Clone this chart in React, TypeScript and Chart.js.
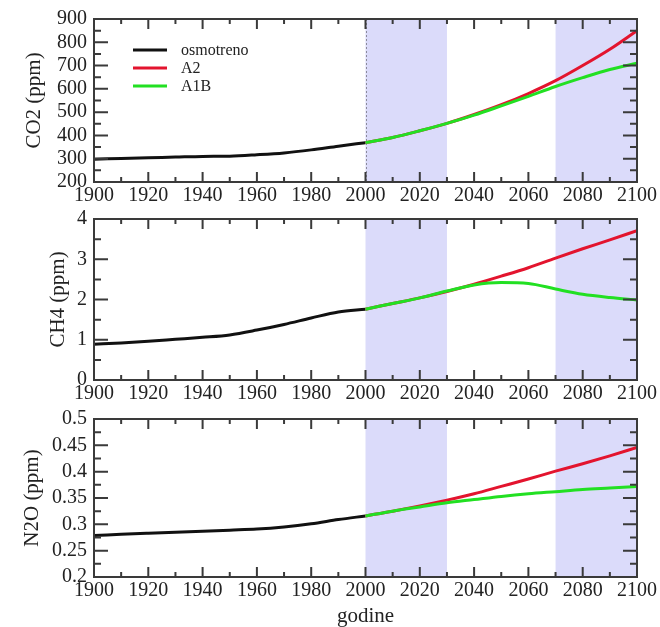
import { useEffect, useRef } from "react";
import { Chart, registerables } from "chart.js";

Chart.register(...registerables);

// ---- data ----
const histYears = [1900, 1910, 1920, 1930, 1940, 1950, 1960, 1970, 1980, 1990, 2000];
const futYears = [2000, 2010, 2020, 2030, 2040, 2050, 2060, 2070, 2080, 2090, 2100];

const co2Hist = [298, 301, 304, 307, 310, 311, 317, 325, 338, 354, 369];
const co2A2 = [369, 391, 420, 452, 490, 532, 580, 635, 700, 770, 850];
const co2A1B = [369, 391, 420, 452, 487, 527, 568, 610, 648, 683, 710];

const ch4Hist = [0.89, 0.92, 0.96, 1.01, 1.06, 1.12, 1.24, 1.38, 1.54, 1.69, 1.76];
const ch4A2 = [1.76, 1.9, 2.04, 2.2, 2.38, 2.58, 2.79, 3.03, 3.26, 3.48, 3.71];
const ch4A1B = [1.76, 1.9, 2.04, 2.21, 2.36, 2.42, 2.4, 2.26, 2.13, 2.05, 1.99];

const n2oHist = [0.279, 0.281, 0.283, 0.285, 0.287, 0.289, 0.291, 0.295, 0.301, 0.309, 0.316];
const n2oA2 = [0.316, 0.325, 0.335, 0.346, 0.358, 0.372, 0.386, 0.401, 0.415, 0.43, 0.446];
const n2oA1B = [0.316, 0.325, 0.333, 0.341, 0.347, 0.353, 0.358, 0.362, 0.366, 0.369, 0.372];

const seriesLabels = ["osmotreno", "A2", "A1B"];
const seriesColors = ["#111111", "#e3142e", "#22e022"];
const shadeRanges = [
  [2000, 2030],
  [2070, 2100],
];
const xTickLabels = [1900, 1920, 1940, 1960, 1980, 2000, 2020, 2040, 2060, 2080, 2100];

const FONT = "'Liberation Serif', 'Times New Roman', serif";

const framePlugin = {
  id: "frameTicks",
  beforeDatasetsDraw(chart: any, _a: any, opts: any) {
    const { ctx, chartArea } = chart;
    const xs = chart.scales.x;
    ctx.save();
    ctx.fillStyle = "rgb(219,219,250)";
    for (const [a, b] of opts.shade || []) {
      const x1 = xs.getPixelForValue(a);
      const x2 = xs.getPixelForValue(b);
      ctx.fillRect(x1, chartArea.top, x2 - x1, chartArea.bottom - chartArea.top);
    }
    if (opts.dotted) {
      ctx.strokeStyle = "#8a8a9a";
      ctx.lineWidth = 1;
      ctx.setLineDash([2, 2]);
      const x = Math.round(xs.getPixelForValue(2000)) + 0.5;
      ctx.beginPath();
      ctx.moveTo(x, chartArea.top);
      ctx.lineTo(x, chartArea.bottom);
      ctx.stroke();
    }
    ctx.restore();
  },
  afterDatasetsDraw(chart: any, _a: any, opts: any) {
    const { ctx, chartArea } = chart;
    const xs = chart.scales.x;
    const ys = chart.scales.y;
    const { left, right, top, bottom } = chartArea;
    ctx.save();
    ctx.strokeStyle = "#3a3a3a";
    ctx.lineWidth = 2;
    // x ticks
    const xMin = xs.min, xMax = xs.max;
    for (let v = xMin + opts.xMinor; v < xMax - 1e-9; v += opts.xMinor) {
      const major = Math.abs(((v - xMin) / opts.xMajor) - Math.round((v - xMin) / opts.xMajor)) < 1e-6;
      const len = major ? 10 : 5;
      const x = xs.getPixelForValue(v);
      ctx.beginPath();
      ctx.moveTo(x, bottom);
      ctx.lineTo(x, bottom - len);
      ctx.moveTo(x, top);
      ctx.lineTo(x, top + len);
      ctx.stroke();
    }
    // y ticks
    const yMin = ys.min, yMax = ys.max;
    const n = Math.round((yMax - yMin) / opts.yMinor);
    for (let i = 1; i < n; i++) {
      const v = yMin + i * opts.yMinor;
      const r = (v - yMin) / opts.yMajor;
      const major = Math.abs(r - Math.round(r)) < 1e-6;
      const len = major ? 14 : 7;
      const y = ys.getPixelForValue(v);
      ctx.beginPath();
      ctx.moveTo(left, y);
      ctx.lineTo(left + len, y);
      ctx.moveTo(right, y);
      ctx.lineTo(right - len, y);
      ctx.stroke();
    }
    ctx.strokeRect(left, top, right - left, bottom - top);
    // legend
    if (opts.legend) {
      chart.data.datasets.forEach((ds: any, i: number) => {
        const y = 50 + i * 18;
        ctx.strokeStyle = ds.borderColor;
        ctx.lineWidth = 3;
        ctx.beginPath();
        ctx.moveTo(133, y);
        ctx.lineTo(167, y);
        ctx.stroke();
        ctx.fillStyle = "#222";
        ctx.font = `16px ${FONT}`;
        ctx.textBaseline = "middle";
        ctx.textAlign = "left";
        ctx.fillText(ds.label, 181, y + 1);
      });
    }
    ctx.restore();
  },
};

type PanelProps = {
  top: number;
  height: number;
  padTop: number;
  xAxisH: number;
  hist: number[];
  a2: number[];
  a1b: number[];
  yMin: number;
  yMax: number;
  yStep: number;
  yMinor: number;
  yTitle: string;
  yTitlePad: number;
  xTitle?: string;
  legend?: boolean;
  dotted?: boolean;
};

function Panel(p: PanelProps) {
  const ref = useRef<HTMLCanvasElement>(null);
  useEffect(() => {
    const toPts = (xs: number[], ys: number[]) => xs.map((x, i) => ({ x, y: ys[i] }));
    const mk = (i: number, data: any[], order: number) => ({
      label: seriesLabels[i],
      data,
      borderColor: seriesColors[i],
      backgroundColor: seriesColors[i],
      borderWidth: 3,
      pointRadius: 0,
      cubicInterpolationMode: "monotone" as const,
      fill: false,
      order,
    });
    const chart = new Chart(ref.current!, {
      type: "line",
      data: {
        datasets: [
          mk(0, toPts(histYears, p.hist), 2),
          mk(1, toPts(futYears, p.a2), 1),
          mk(2, toPts(futYears, p.a1b), 0),
        ],
      },
      options: {
        animation: false,
        responsive: false,
        maintainAspectRatio: false,
        layout: { padding: { top: p.padTop, right: 23, left: 0, bottom: 0 } },
        plugins: {
          legend: { display: false },
          tooltip: { enabled: false },
          frameTicks: {
            shade: shadeRanges,
            xMinor: 10,
            xMajor: 20,
            yMinor: p.yMinor,
            yMajor: p.yStep,
            legend: !!p.legend,
            dotted: !!p.dotted,
          },
        } as any,
        scales: {
          x: {
            type: "linear",
            min: 1900,
            max: 2100,
            afterBuildTicks: (s: any) => {
              s.ticks = xTickLabels.map((v) => ({ value: v }));
            },
            ticks: {
              autoSkip: false,
              maxRotation: 0,
              padding: 2,
              color: "#222",
              font: { family: FONT, size: 20 },
              callback: (v: any) => String(v),
            },
            grid: { display: false, drawTicks: false },
            border: { display: false },
            title: {
              display: !!p.xTitle,
              text: p.xTitle || "",
              color: "#222",
              font: { family: FONT, size: 21, lineHeight: 1 },
              padding: { top: 0, bottom: 0 },
            },
            afterFit: (s: any) => {
              s.height = p.xAxisH;
            },
          },
          y: {
            min: p.yMin,
            max: p.yMax,
            ticks: {
              stepSize: p.yStep,
              autoSkip: false,
              padding: 7,
              color: "#222",
              font: { family: FONT, size: 20 },
              callback: (v: any) => String(+Number(v).toFixed(3)),
            },
            grid: { display: false, drawTicks: false },
            border: { display: false },
            title: {
              display: true,
              text: p.yTitle,
              color: "#222",
              font: { family: FONT, size: 21 },
              padding: { top: p.yTitlePad, bottom: 0 },
            },
            afterFit: (s: any) => {
              s.width = 94;
            },
          },
        },
      },
      plugins: [framePlugin],
    });
    return () => chart.destroy();
  }, []);
  return (
    <canvas
      ref={ref}
      width={660}
      height={p.height}
      style={{ position: "absolute", left: 0, top: p.top, width: 660, height: p.height }}
    />
  );
}

export default function App() {
  return (
    <div style={{ position: "fixed", left: 0, top: 0, width: 660, height: 627, background: "#fff" }}>
      <Panel
        top={0}
        height={210}
        padTop={16}
        xAxisH={28}
        hist={co2Hist}
        a2={co2A2}
        a1b={co2A1B}
        yMin={200}
        yMax={900}
        yStep={100}
        yMinor={50}
        yTitle="CO2 (ppm)"
        yTitlePad={22}
        legend
        dotted
      />
      <Panel
        top={200}
        height={210}
        padTop={15}
        xAxisH={30}
        hist={ch4Hist}
        a2={ch4A2}
        a1b={ch4A1B}
        yMin={0}
        yMax={4}
        yStep={1}
        yMinor={0.5}
        yTitle="CH4 (ppm)"
        yTitlePad={46}
      />
      <Panel
        top={400}
        height={227}
        padTop={13}
        xAxisH={50}
        hist={n2oHist}
        a2={n2oA2}
        a1b={n2oA1B}
        yMin={0.2}
        yMax={0.5}
        yStep={0.05}
        yMinor={0.025}
        yTitle="N2O (ppm)"
        yTitlePad={20}
        xTitle="godine"
      />
    </div>
  );
}
